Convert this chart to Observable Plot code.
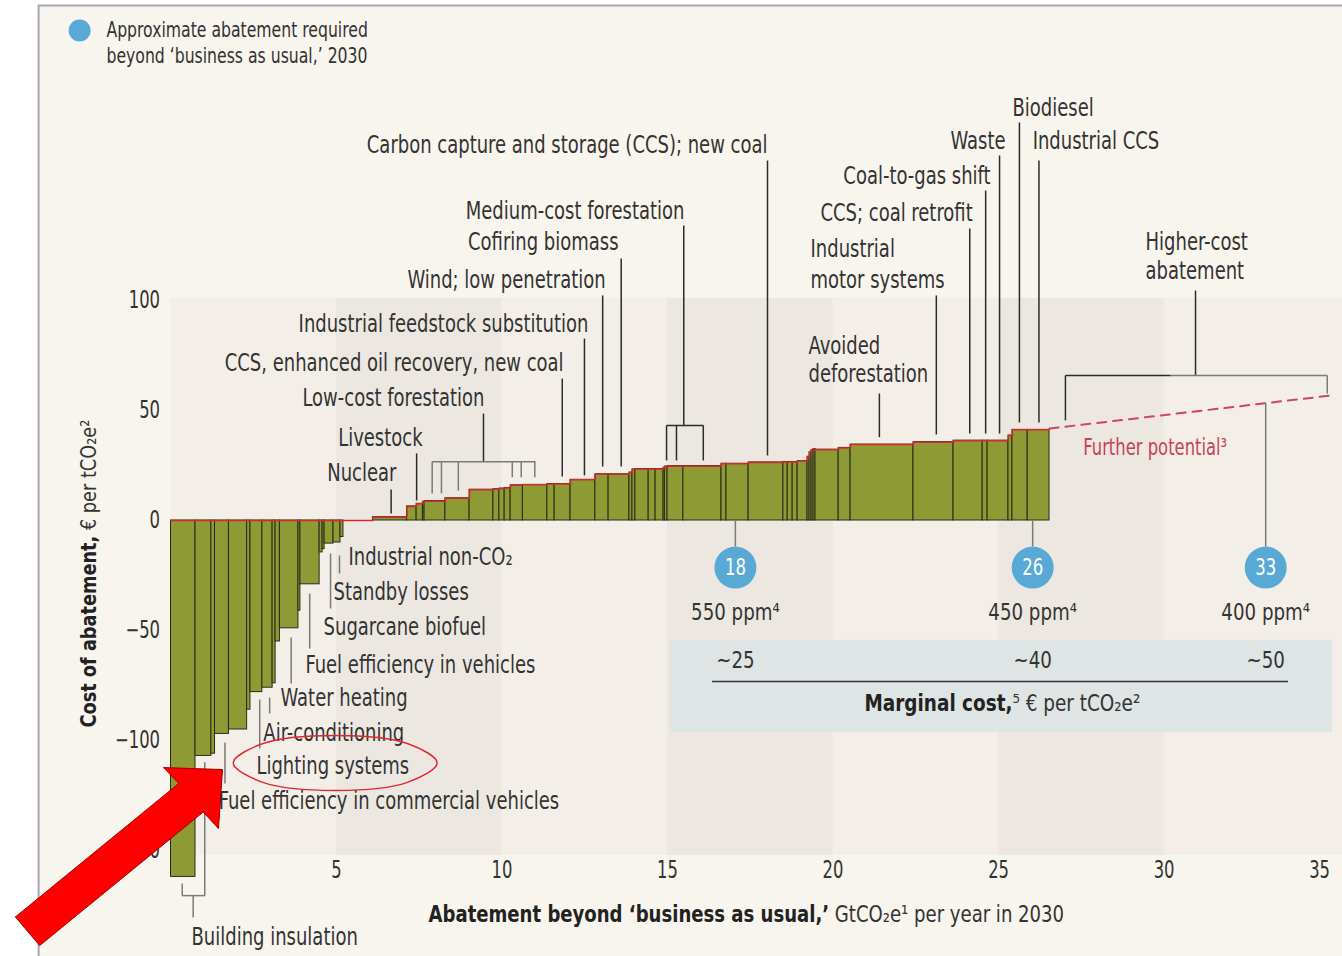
<!DOCTYPE html>
<html><head><meta charset="utf-8">
<script src="https://cdn.jsdelivr.net/npm/d3@7"></script>
<script src="https://cdn.jsdelivr.net/npm/@observablehq/plot@0.6"></script>
<style>
body{margin:0;background:#fff;}
#chart svg{display:block;}
</style></head><body><div id="chart"></div>
<script>
// ---- Data: abatement levers (width = GtCO2e potential, cost = € per tCO2e), in cost order
const widths = [0.74,0.48,0.11,0.42,0.55,0.10,0.36,0.31,0.09,0.13,0.56,0.06,0.58,0.09,0.06,0.27,0.21,0.09,
  0.89,
  1.03,0.29,0.19,0.05,0.63,0.73,0.72,0.18,0.16,0.18,0.37,0.74,0.22,0.48,0.75,0.40,0.63,0.09,0.09,0.40,
  0.21,0.24,0.04,0.08,0.48,1.15,0.15,0.67,1.05,0.13,0.15,0.15,0.30,0.06,0.06,0.06,0.06,0.70,0.36,1.90,
  1.21,0.88,0.15,0.63,0.12,0.46,0.66];
const costs = [-162,-107,-106,-97,-95,-86,-78,-76,-74,-55,-49,-41,-29,-14.5,-13,-10.5,-10,-7.5,
  0,
  1.5,6.4,7.6,8.5,8.8,10.1,14,14.2,14.5,14.8,16,16.2,16.6,16.6,18.5,21,21,21.8,23.2,23.4,
  23.4,23.4,24,24.5,24.7,24.7,25.8,25.8,26.4,26.6,26.6,26.6,27,29,31,32,32.5,32.2,33,34.5,
  35.6,36.3,36.3,36.3,38.6,41.2,41.2];
// further potential (dashed) end points
const furtherX = [26.54, 35.03];
const furtherY = [41.8, 56.8];
// scenario markers
const scenarioX = [17.05, 26.03, 33.07];
const scenarioLabel = ["18", "26", "33"];
const scenarioPpm = ["550 ppm⁴", "450 ppm⁴", "400 ppm⁴"];
const scenarioCost = ["~25", "~40", "~50"];
const xTicks = [5, 10, 15, 20, 25, 30];
const xTickLast = [35];
const yTicks = [100, 50, 0, -50, -100, -150];

// ---- Annotation layout (data units)
const labels = [
  ["Carbon capture and storage (CCS); new coal", 18.02, 170.5, "end"],
  ["Medium-cost forestation", 15.51, 140.9, "end"],
  ["Cofiring biomass", 13.52, 126.4, "end"],
  ["Wind; low penetration", 13.13, 109.5, "end"],
  ["Industrial feedstock substitution", 12.61, 89.5, "end"],
  ["CCS, enhanced oil recovery, new coal", 11.86, 71.4, "end"],
  ["Low-cost forestation", 9.47, 55.5, "end"],
  ["Livestock", 7.60, 37.3, "end"],
  ["Nuclear", 6.81, 21.4, "end"],
  ["CCS; coal retrofit", 24.22, 140, "end"],
  ["Coal-to-gas shift", 24.76, 156.8, "end"],
  ["Waste", 25.21, 172.7, "end"],
  ["Biodiesel", 25.42, 187.7, "start"],
  ["Industrial CCS", 26.03, 172.7, "start"],
  ["Industrial", 19.32, 123.2, "start"],
  ["motor systems", 19.32, 109.1, "start"],
  ["Avoided", 19.26, 79.1, "start"],
  ["deforestation", 19.26, 66.4, "start"],
  ["Higher-cost", 29.44, 126.4, "start"],
  ["abatement", 29.44, 113.2, "start"],
  ["Industrial non-CO₂", 5.36, -16.8, "start"],
  ["Standby losses", 4.91, -32.7, "start"],
  ["Sugarcane biofuel", 4.61, -48.6, "start"],
  ["Fuel efficiency in vehicles", 4.06, -65.9, "start"],
  ["Water heating", 3.31, -80.5, "start"],
  ["Air-conditioning", 2.79, -96.4, "start"],
  ["Lighting systems", 2.58, -111.8, "start"],
  ["Fuel efficiency in commercial vehicles", 1.44, -127.7, "start"],
  ["Building insulation", 0.62, -189.1, "start"]
].map(([text, x, y, anchor]) => ({text, x, y, anchor}));

const darkLeaders = [
  [18.02,163.6,18.02,29.5],
  [15.49,134.1,15.49,43.2],[14.97,43.2,16.08,43.2],[14.97,43.2,14.97,27.3],[15.27,43.2,15.27,27.3],[16.08,43.2,16.08,27.3],
  [13.60,119.1,13.60,24.5],[13.04,102.3,13.04,24.5],[12.49,82.7,12.49,20.5],[11.82,64.5,11.82,20],
  [9.44,48.6,9.44,26.7],[7.42,30.5,7.42,9.1],[6.65,14.1,6.65,3.2],
  [24.13,132.7,24.13,39.5],[24.61,150,24.61,39.5],[25.03,165.9,25.03,39.5],
  [25.63,180.9,25.63,44.5],[26.22,163.6,26.22,44.5],[23.12,102.3,23.12,39.1],[21.4,57.7,21.4,37.9],
  [30.95,104.5,30.95,65.9],[27.02,65.9,30.2,65.9],[27.02,65.9,27.02,45.5]
].map(([x1,y1,x2,y2]) => ({x1,y1,x2,y2}));
const grayLeaders = [
  [7.89,26.7,11.01,26.7],[7.89,26.7,7.89,12.3],[8.17,26.7,8.17,12.3],[8.68,26.7,8.68,13.6],
  [10.31,26.7,10.31,19.7],[10.58,26.7,10.58,19.7],[10.99,26.7,10.99,19.7],
  [30.2,65.9,34.93,65.9],[34.93,65.9,34.93,57.7],
  [5.09,-15.9,5.09,-24.1],[4.82,-15,4.82,-40],[4.19,-33.2,4.19,-58.2],[3.63,-53.2,3.63,-74.1],
  [2.98,-80.5,2.98,-87.7],[2.68,-81.4,2.68,-103.6],[1.63,-100.9,1.63,-119.5],
  [0.34,-170.5,1.02,-170.5],[0.34,-165,0.34,-170.5],[1.02,-109.9,1.02,-170.5],[0.67,-170.5,0.67,-180.5],
  [17.05,0,17.05,-11.8],[26.03,0,26.03,-11.8],[33.07,53.3,33.07,-11.8]
].map(([x1,y1,x2,y2]) => ({x1,y1,x2,y2}));

const arrow = [[-4.70,-180.2],[0.236,-119.5],[-0.227,-112.3],[1.556,-113.2],[1.435,-140.0],[0.973,-132.5],[-3.967,-193.2],[-4.70,-180.2]]
  .map(([x,y]) => ({x,y}));
const ellipse = [[8.04,-110.2],[7.14,-101.36],[4.96,-97.7],[2.78,-101.36],[1.88,-110.2],[2.78,-119.04],[4.96,-122.7],[7.14,-119.04]]
  .map(([x,y]) => ({x,y}));

// composite titles: [bold prefix, regular rest, target length in px]
const composites = [
  ["Abatement beyond ‘business as usual,’", " GtCO₂e¹ per year in 2030", 636],
  ["Marginal cost,", "⁵ € per tCO₂e²", 276],
  ["Cost of abatement,", " € per tCO₂e²", 308]
];

// ---- Build bars
const starts = d3.cumsum([0, ...widths]);
const bars = widths.map((w, i) => ({x1: starts[i], x2: starts[i + 1], cost: costs[i]}));
const stepPts = bars.map(b => ({x: b.x1, y: Math.max(0, b.cost)}));
stepPts.push({x: bars[bars.length - 1].x2, y: bars[bars.length - 1].cost});
const further = furtherX.map((x, i) => ({x, y: furtherY[i]}));

const FONT = '"Liberation Sans Narrow", "DejaVu Sans Condensed", "Arial Narrow", sans-serif';
const TXT = "#333333";
// horizontal condensation per font size (the reference uses a tall condensed face)
const SQUEEZE = {25: 0.80, 24: 0.76, 21: 0.83, 23: 0.88, 22.5: 0.81, 22.4: 0.82};

const chart = Plot.plot({
  width: 1342, height: 956,
  marginLeft: 170.5, marginRight: 0, marginTop: 0, marginBottom: 101,
  x: {domain: [0, 35.39]},
  y: {domain: [-152.27, 236.36]},
  style: {background: "transparent", fontFamily: FONT, fontSize: "23px", color: TXT},
  marks: [
    Plot.rect([{}], {x1: -4.0, x2: 35.6, y1: -200, y2: 234.1, fill: "#f8f5ee"}),
    Plot.ruleX([-4.0], {y1: -200, y2: 234.1, stroke: "#a6a6b0", strokeWidth: 2}),
    Plot.ruleY([234.1], {x1: -4.0, x2: 35.6, stroke: "#a6a6b0", strokeWidth: 2}),
    Plot.rect([{}], {x1: 0, x2: 35.6, y1: -152.27, y2: 101, fill: "#f3efe8"}),
    Plot.rect([5, 15, 25], {x1: d => d, x2: d => d + 5, y1: -152.27, y2: 101, fill: "#ece8e1"}),
    Plot.rect([{}], {x1: 15.1, x2: 35.09, y1: -96.4, y2: -54.5, fill: "#dfe4e4"}),
    Plot.axisY({ticks: yTicks, tickSize: 0, tickPadding: 11, label: null, fontSize: 24, fill: TXT}),
    Plot.axisX({ticks: xTicks, tickSize: 0, tickPadding: 5, label: null, fontSize: 24, fill: TXT}),
    Plot.axisX({ticks: xTickLast, tickSize: 0, tickPadding: 5, label: null, fontSize: 24, fill: TXT, dx: -10}),
    Plot.rect(bars.filter(b => b.cost !== 0), {x1: "x1", x2: "x2", y1: 0, y2: "cost", fill: "#8e9b34", stroke: "#2a2a18", strokeWidth: 1}),
    Plot.line(stepPts, {x: "x", y: "y", curve: "step-after", stroke: "#d42a2a", strokeWidth: 1.5}),
    Plot.line(further, {x: "x", y: "y", stroke: "#d2435e", strokeWidth: 2, strokeDasharray: "9,7"}),
    Plot.link(darkLeaders, {x1: "x1", y1: "y1", x2: "x2", y2: "y2", stroke: "#2b2b2b", strokeWidth: 1.5}),
    Plot.link(grayLeaders, {x1: "x1", y1: "y1", x2: "x2", y2: "y2", stroke: "#7a7a7a", strokeWidth: 1.5}),
    Plot.text(labels.filter(d => d.anchor === "end"), {x: "x", y: "y", text: "text", textAnchor: "end", fontSize: 25, fill: TXT}),
    Plot.text(labels.filter(d => d.anchor === "start"), {x: "x", y: "y", text: "text", textAnchor: "start", fontSize: 25, fill: TXT}),
    Plot.text(["Further potential³"], {x: 27.56, y: 33.2, text: d => d, textAnchor: "start", fontSize: 22.5, fill: "#c8435a"}),
    // scenario markers
    Plot.dot(scenarioX, {x: d => d, y: -21.4, r: 21, fill: "#58a9d6"}),
    Plot.text(scenarioX, {x: d => d, y: -21.4, text: (d, i) => scenarioLabel[i], fill: "white", fontSize: 22.4}),
    Plot.text(scenarioX, {x: d => d, y: -41.8, text: (d, i) => scenarioPpm[i], fill: TXT, fontSize: 23}),
    Plot.text(scenarioX, {x: d => d, y: -63.6, text: (d, i) => scenarioCost[i], fill: TXT, fontSize: 23}),
    Plot.ruleY([-73.2], {x1: 16.36, x2: 33.76, stroke: "#333", strokeWidth: 1.5}),
    // composite titles (bold prefix styled after render)
    Plot.text([composites[1][0] + composites[1][1]], {x: 20.95, y: -83.2, text: d => d, textAnchor: "start", fontSize: 23, fill: TXT}),
    Plot.text([composites[0][0] + composites[0][1]], {x: 7.78, y: -179.1, text: d => d, textAnchor: "start", fontSize: 23, fill: TXT}),
    Plot.text([composites[2][0] + composites[2][1]], {x: -2.49, y: -94.1, text: d => d, rotate: -90, textAnchor: "start", fontSize: 22, fill: TXT}),
    // legend
    Plot.dot([{}], {x: -2.76, y: 222.7, r: 11, fill: "#58a9d6"}),
    Plot.text(["Approximate abatement required", "beyond ‘business as usual,’ 2030"], {x: -1.95, y: (d, i) => [222.7, 210.9][i], text: d => d, textAnchor: "start", fontSize: 21, fill: TXT}),
    // highlight annotations
    Plot.line(ellipse, {x: "x", y: "y", curve: "catmull-rom-closed", stroke: "#e0282e", strokeWidth: 1.5}),
    Plot.line(arrow, {x: "x", y: "y", fill: "#ff0000", stroke: "#a00000", strokeWidth: 1})
  ]
});
document.getElementById("chart").appendChild(chart);

// condense glyphs horizontally (about each text's anchor) to mimic the reference's condensed typeface
const NS = "http://www.w3.org/2000/svg";
function squeeze(el, f) {
  const ax = parseFloat(el.getAttribute("x") || "0");
  const t = el.getAttribute("transform") || "";
  el.setAttribute("transform", `${t} translate(${ax},0) scale(${f.toFixed(4)},1) translate(${-ax},0)`.trim());
}
chart.querySelectorAll("text").forEach(el => {
  const content = el.textContent;
  const comp = composites.find(c => c[0] + c[1] === content);
  if (comp) {
    el.textContent = "";
    const b = document.createElementNS(NS, "tspan");
    b.setAttribute("font-weight", "bold");
    b.setAttribute("fill", "#222");
    b.textContent = comp[0];
    const r = document.createElementNS(NS, "tspan");
    r.textContent = comp[1];
    el.appendChild(b); el.appendChild(r);
    const len = el.getComputedTextLength();
    if (len > 0) squeeze(el, comp[2] / len);
    return;
  }
  const fs = parseFloat(getComputedStyle(el).fontSize);
  const f = SQUEEZE[fs];
  if (f) squeeze(el, f);
});
</script></body></html>
